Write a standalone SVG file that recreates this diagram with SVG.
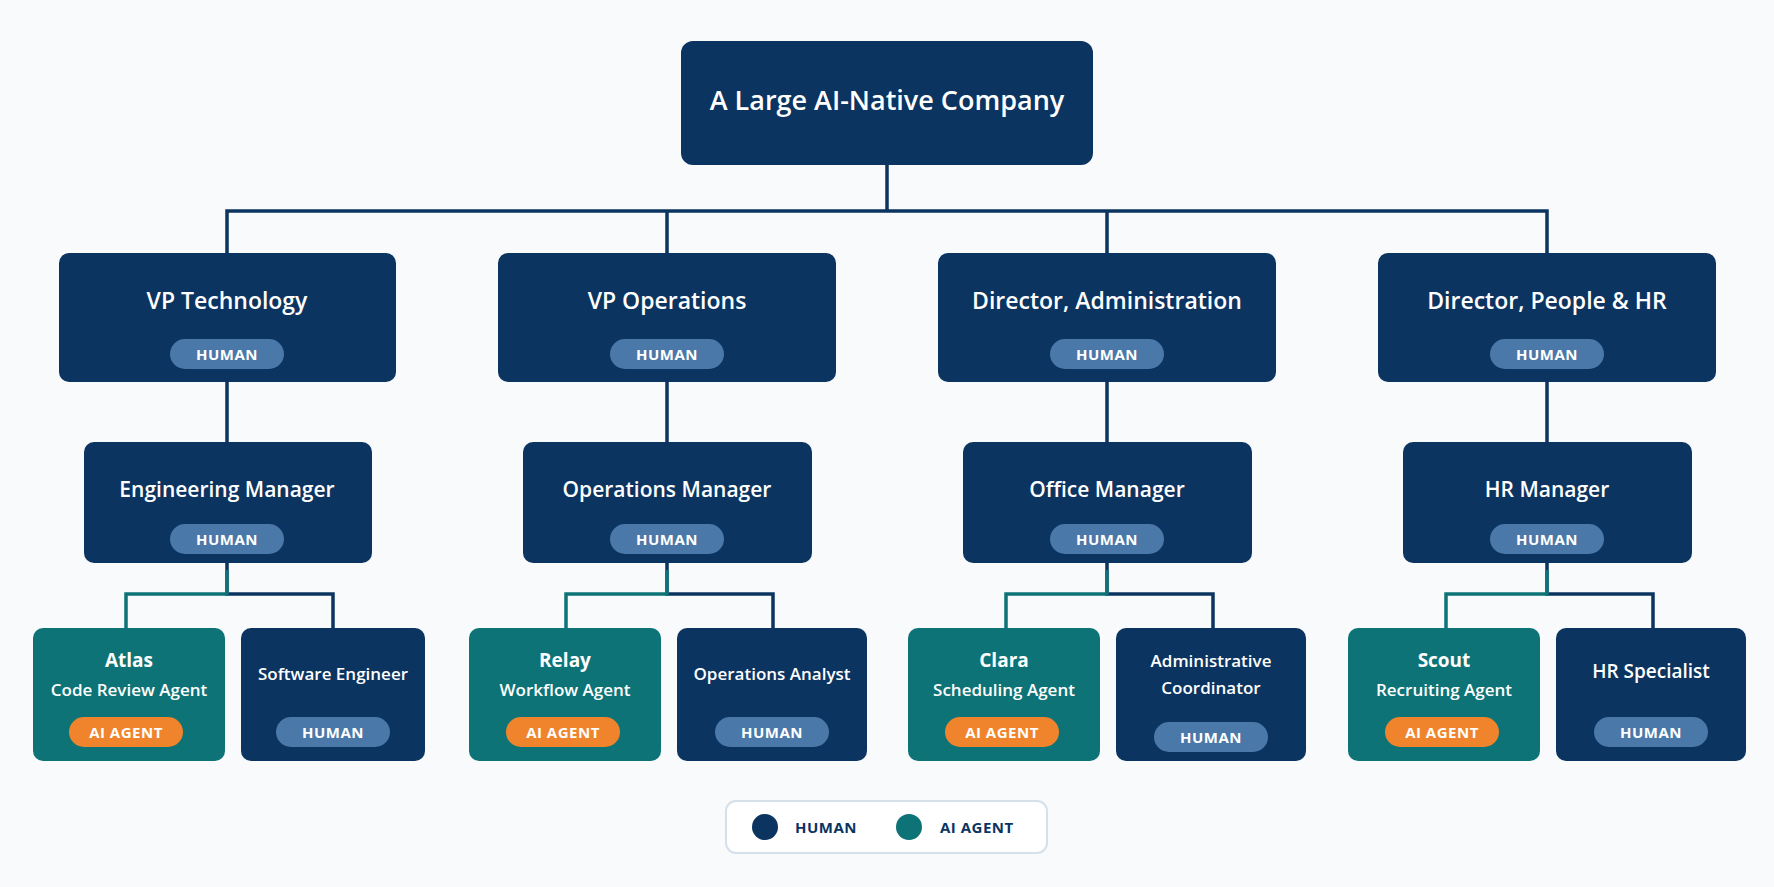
<svg xmlns="http://www.w3.org/2000/svg" width="1774" height="887" viewBox="0 0 1774 887">
<style>
text{font-family:"Open Sans","Liberation Sans",sans-serif;fill:#fff;text-anchor:middle;font-weight:600}
.n{fill:#0b3461}.a{fill:#0d7377}
.ph{fill:#4a78a8}.pa{fill:#f0842c}
.t1{font-size:23px}.t2{font-size:21px}.t3{font-size:19px;font-weight:700}.t4{font-size:17px}
.p{font-size:15px;font-weight:700;letter-spacing:.5px}
.c{fill:none;stroke:#0b3461;stroke-width:3.5}.ct{fill:none;stroke:#0d7377;stroke-width:3.5}
.lg{font-size:15px;font-weight:700;fill:#0b3461;letter-spacing:.5px;text-anchor:start}
</style>
<rect width="1774" height="887" fill="#f8fafb"/>
<g id="connectors">
<path class="c" d="M887 165V211M227 253V211H1547V253M667 211V253M1107 211V253"/>
<path class="c" d="M227 382V442M667 382V442M1107 382V442M1547 382V442"/>
<path class="c" d="M227 563V594H333V628M667 563V594H773V628M1107 563V594H1213V628M1547 563V594H1653V628"/>
<path class="ct" d="M227 570V594H126V628M667 570V594H566V628M1107 570V594H1006V628M1547 570V594H1446V628"/>
</g>
<g id="root"><rect class="n" x="681" y="41" width="412" height="124" rx="12"/><text class="t1" x="887" y="110" style="font-size:27px">A Large AI-Native Company</text></g>
<g id="vp-tech"><rect class="n" x="59" y="253" width="337" height="129" rx="10"/><text class="t1" x="227" y="309">VP Technology</text><rect class="ph" x="170" y="339" width="114" height="30" rx="15"/><text class="p" x="227" y="360">HUMAN</text></g>
<g id="vp-ops"><rect class="n" x="498" y="253" width="338" height="129" rx="10"/><text class="t1" x="667" y="309">VP Operations</text><rect class="ph" x="610" y="339" width="114" height="30" rx="15"/><text class="p" x="667" y="360">HUMAN</text></g>
<g id="dir-admin"><rect class="n" x="938" y="253" width="338" height="129" rx="10"/><text class="t1" x="1107" y="309">Director, Administration</text><rect class="ph" x="1050" y="339" width="114" height="30" rx="15"/><text class="p" x="1107" y="360">HUMAN</text></g>
<g id="dir-hr"><rect class="n" x="1378" y="253" width="338" height="129" rx="10"/><text class="t1" x="1547" y="309">Director, People &amp; HR</text><rect class="ph" x="1490" y="339" width="114" height="30" rx="15"/><text class="p" x="1547" y="360">HUMAN</text></g>
<g id="eng-mgr"><rect class="n" x="84" y="442" width="288" height="121" rx="10"/><text class="t2" x="227" y="497">Engineering Manager</text><rect class="ph" x="170" y="524" width="114" height="30" rx="15"/><text class="p" x="227" y="545">HUMAN</text></g>
<g id="ops-mgr"><rect class="n" x="523" y="442" width="289" height="121" rx="10"/><text class="t2" x="667" y="497">Operations Manager</text><rect class="ph" x="610" y="524" width="114" height="30" rx="15"/><text class="p" x="667" y="545">HUMAN</text></g>
<g id="office-mgr"><rect class="n" x="963" y="442" width="289" height="121" rx="10"/><text class="t2" x="1107" y="497">Office Manager</text><rect class="ph" x="1050" y="524" width="114" height="30" rx="15"/><text class="p" x="1107" y="545">HUMAN</text></g>
<g id="hr-mgr"><rect class="n" x="1403" y="442" width="289" height="121" rx="10"/><text class="t2" x="1547" y="497">HR Manager</text><rect class="ph" x="1490" y="524" width="114" height="30" rx="15"/><text class="p" x="1547" y="545">HUMAN</text></g>
<g id="atlas"><rect class="a" x="33" y="628" width="192" height="133" rx="10"/><text class="t3" x="129" y="667">Atlas</text><text class="t4" x="129" y="696">Code Review Agent</text><rect class="pa" x="69" y="717" width="114" height="30" rx="15"/><text class="p" x="126" y="738">AI AGENT</text></g>
<g id="swe"><rect class="n" x="241" y="628" width="184" height="133" rx="10"/><text class="t4" x="333" y="680">Software Engineer</text><rect class="ph" x="276" y="717" width="114" height="30" rx="15"/><text class="p" x="333" y="738">HUMAN</text></g>
<g id="relay"><rect class="a" x="469" y="628" width="192" height="133" rx="10"/><text class="t3" x="565" y="667">Relay</text><text class="t4" x="565" y="696">Workflow Agent</text><rect class="pa" x="506" y="717" width="114" height="30" rx="15"/><text class="p" x="563" y="738">AI AGENT</text></g>
<g id="ops-analyst"><rect class="n" x="677" y="628" width="190" height="133" rx="10"/><text class="t4" x="772" y="680">Operations Analyst</text><rect class="ph" x="715" y="717" width="114" height="30" rx="15"/><text class="p" x="772" y="738">HUMAN</text></g>
<g id="clara"><rect class="a" x="908" y="628" width="192" height="133" rx="10"/><text class="t3" x="1004" y="667">Clara</text><text class="t4" x="1004" y="696">Scheduling Agent</text><rect class="pa" x="945" y="717" width="114" height="30" rx="15"/><text class="p" x="1002" y="738">AI AGENT</text></g>
<g id="admin-coord"><rect class="n" x="1116" y="628" width="190" height="133" rx="10"/><text class="t4" x="1211" y="667">Administrative</text><text class="t4" x="1211" y="694">Coordinator</text><rect class="ph" x="1154" y="722" width="114" height="30" rx="15"/><text class="p" x="1211" y="743">HUMAN</text></g>
<g id="scout"><rect class="a" x="1348" y="628" width="192" height="133" rx="10"/><text class="t3" x="1444" y="667">Scout</text><text class="t4" x="1444" y="696">Recruiting Agent</text><rect class="pa" x="1385" y="717" width="114" height="30" rx="15"/><text class="p" x="1442" y="738">AI AGENT</text></g>
<g id="hr-spec"><rect class="n" x="1556" y="628" width="190" height="133" rx="10"/><text class="t4" x="1651" y="678" style="font-size:19px">HR Specialist</text><rect class="ph" x="1594" y="717" width="114" height="30" rx="15"/><text class="p" x="1651" y="738">HUMAN</text></g>
<g id="legend"><rect x="726" y="801" width="321" height="52" rx="10" fill="#fff" stroke="#d5e0ea" stroke-width="2"/><circle cx="765" cy="827" r="13" class="n"/><text class="lg" x="795" y="833">HUMAN</text><circle cx="909" cy="827" r="13" class="a"/><text class="lg" x="940" y="833">AI AGENT</text></g>
</svg>
